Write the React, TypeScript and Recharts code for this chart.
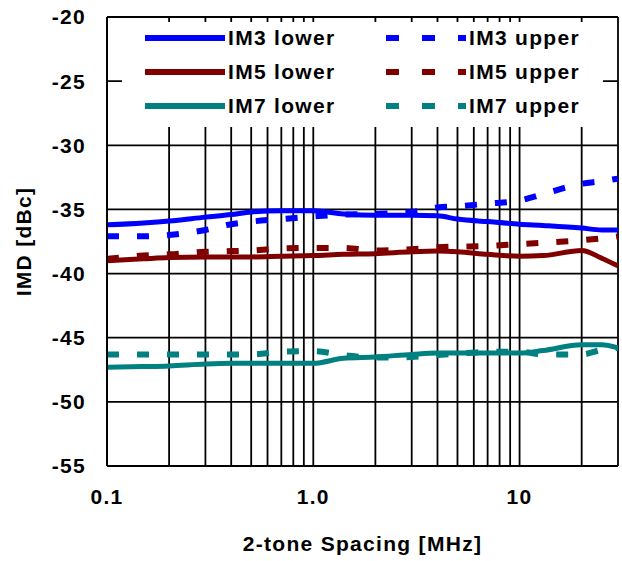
import React from 'react';
import { LineChart, Line, XAxis, YAxis, CartesianGrid, Legend } from 'recharts';

// 2-tone spacing in MHz
const spacing = [0.1, 0.15, 0.2, 0.3, 0.4, 0.5, 0.7, 1.0, 1.4, 2, 3, 4, 5, 7, 10, 13, 20, 25, 30];

const im3Lower = [-36.2, -36.05, -35.9, -35.6, -35.4, -35.2, -35.1, -35.1, -35.35, -35.45, -35.45, -35.5, -35.75, -35.95, -36.15, -36.25, -36.45, -36.6, -36.6];
const im3Upper = [-37.1, -37.1, -37.0, -36.6, -36.15, -35.95, -35.75, -35.55, -35.4, -35.35, -35.2, -34.85, -34.75, -34.55, -34.3, -33.8, -33.0, -32.8, -32.6];
const im5Lower = [-39.0, -38.85, -38.75, -38.7, -38.7, -38.7, -38.65, -38.6, -38.5, -38.45, -38.3, -38.25, -38.3, -38.5, -38.65, -38.6, -38.2, -38.8, -39.4];
const im5Upper = [-38.85, -38.6, -38.5, -38.3, -38.25, -38.2, -38.05, -38.0, -38.0, -38.2, -38.1, -37.95, -37.9, -37.85, -37.7, -37.6, -37.4, -37.25, -37.1];
const im7Lower = [-47.3, -47.25, -47.2, -47.05, -47.0, -47.0, -47.0, -47.0, -46.6, -46.5, -46.3, -46.2, -46.2, -46.2, -46.2, -46.0, -45.55, -45.55, -45.8];
const im7Upper = [-46.3, -46.3, -46.3, -46.3, -46.3, -46.3, -46.1, -46.05, -46.35, -46.55, -46.5, -46.35, -46.25, -46.1, -46.1, -46.3, -46.3, -45.95, -45.8];

const xTicks = [0.1, 0.2, 0.3, 0.4, 0.5, 0.6, 0.7, 0.8, 0.9, 1, 2, 3, 4, 5, 6, 7, 8, 9, 10, 20, 30];
const yTicks = [-55, -50, -45, -40, -35, -30, -25, -20];

const data = spacing.map((x, i) => ({
  x,
  im3Lower: im3Lower[i],
  im3Upper: im3Upper[i],
  im5Lower: im5Lower[i],
  im5Upper: im5Upper[i],
  im7Lower: im7Lower[i],
  im7Upper: im7Upper[i],
}));

const SERIES = [
  { key: 'im3Lower', name: 'IM3 lower', color: '#0000FF', dashed: false },
  { key: 'im3Upper', name: 'IM3 upper', color: '#0000FF', dashed: true },
  { key: 'im5Lower', name: 'IM5 lower', color: '#800000', dashed: false },
  { key: 'im5Upper', name: 'IM5 upper', color: '#800000', dashed: true },
  { key: 'im7Lower', name: 'IM7 lower', color: '#008080', dashed: false },
  { key: 'im7Upper', name: 'IM7 upper', color: '#008080', dashed: true },
];

const FONT = "Arial, 'Liberation Sans', sans-serif";
const textStyle = { fontFamily: FONT, fontSize: 21, fontWeight: 'bold' as const, fill: '#000', letterSpacing: 1.3 };

const formatX = (v: number) => (v === 0.1 ? '0.1' : v === 1 ? '1.0' : v === 10 ? '10' : '');

const renderLegend = () => (
  <div style={{ position: 'relative', width: 481, height: 105, background: '#fff', fontFamily: FONT }}>
    {SERIES.map((s, i) => {
      const row = Math.floor(i / 2);
      const col = i % 2;
      return (
        <div
          key={s.key}
          style={{
            position: 'absolute',
            left: col === 0 ? 23 : 264,
            top: -1 + row * 34,
            height: 34,
            display: 'flex',
            alignItems: 'center',
            whiteSpace: 'nowrap',
          }}
        >
          <svg width={80} height={8} style={{ display: 'block' }}>
            <line
              x1={0}
              y1={4}
              x2={80}
              y2={4}
              stroke={s.color}
              strokeWidth={6}
              strokeDasharray={s.dashed ? '13 23' : undefined}
            />
          </svg>
          <span style={{ marginLeft: 3, fontSize: 21, fontWeight: 'bold', letterSpacing: 1.3, color: '#000' }}>
            {s.name}
          </span>
        </div>
      );
    })}
  </div>
);

export default function App() {
  return (
    <div style={{ position: 'absolute', left: 0, top: 0, width: 622, height: 561, background: '#fff' }}>
      <LineChart width={622} height={561} data={data} margin={{ top: 17, right: 4, bottom: 0, left: 0 }}>
        <CartesianGrid stroke="#000" strokeWidth={1.8} horizontal vertical />
        <XAxis
          dataKey="x"
          type="number"
          scale="log"
          domain={[0.1, 30]}
          allowDataOverflow
          ticks={xTicks}
          interval={0}
          tickFormatter={formatX}
          tickLine={false}
          tickSize={0}
          tickMargin={23}
          axisLine={{ stroke: '#000', strokeWidth: 1.8 }}
          tick={textStyle}
          height={95}
          label={{ value: '2-tone Spacing [MHz]', position: 'insideBottom', offset: 10, style: textStyle }}
        />
        <YAxis
          type="number"
          domain={[-55, -20]}
          ticks={yTicks}
          interval={0}
          tickLine={false}
          tickSize={0}
          tickMargin={21}
          axisLine={{ stroke: '#000', strokeWidth: 1.8 }}
          tick={textStyle}
          width={107}
          label={{
            value: 'IMD [dBc]',
            angle: -90,
            position: 'insideLeft',
            offset: 24,
            style: { ...textStyle, textAnchor: 'middle' },
          }}
        />
        <Legend
          content={renderLegend}
          layout="vertical"
          align="center"
          verticalAlign="middle"
          wrapperStyle={{ left: 122, top: 22, width: 481, height: 105 }}
        />
        {SERIES.map((s) => (
          <Line
            key={s.key}
            type="monotone"
            dataKey={s.key}
            name={s.name}
            stroke={s.color}
            strokeWidth={s.dashed ? 6 : 5}
            strokeDasharray={s.dashed ? '12 18' : undefined}
            dot={false}
            activeDot={false}
            isAnimationActive={false}
          />
        ))}
      </LineChart>
    </div>
  );
}
